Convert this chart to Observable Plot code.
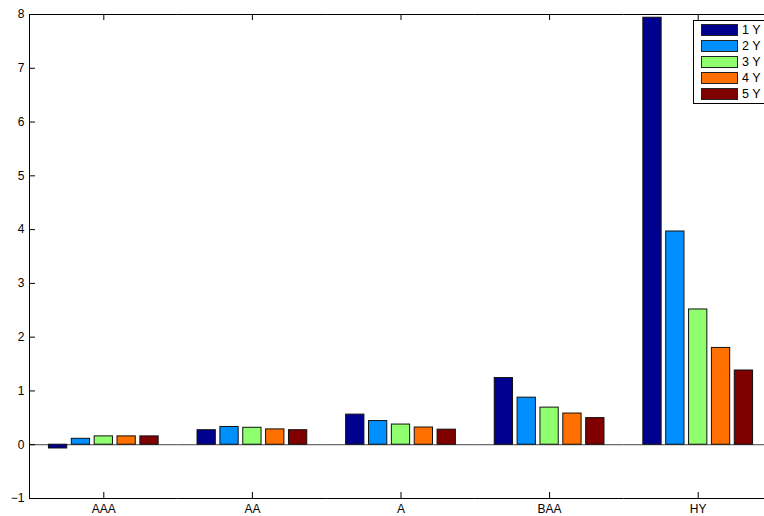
<!DOCTYPE html>
<html>
<head>
<meta charset="utf-8">
<script src="https://cdn.jsdelivr.net/npm/d3@7"></script>
<script src="https://cdn.jsdelivr.net/npm/@observablehq/plot@0.6"></script>
<style>
  html, body { margin: 0; padding: 0; background: #fff; overflow: hidden; }
  #wrap { position: relative; width: 764px; height: 516px; overflow: hidden; font-family: "Liberation Sans", Arial, Helvetica, sans-serif; }
  #wrap svg { max-width: none !important; display: block; }
  #legend { position: absolute; left: 693px; top: 20px; width: 90px; height: 84px; border: 1px solid #000; background: #fff; box-sizing: border-box; }
  .row { position: absolute; left: 7px; height: 12px; display: flex; align-items: center; }
  .sw { width: 35px; height: 10px; border: 1px solid #222; }
  .lab { margin-left: 4px; font-size: 12.5px; color: #000; line-height: 12px; }
</style>
</head>
<body>
<div id="wrap"></div>
<script>
const categories = ["AAA", "AA", "A", "BAA", "HY"];
const seriesNames = ["1 Y", "2 Y", "3 Y", "4 Y", "5 Y"];
const y1 = [-0.07, 0.27, 0.56, 1.24, 7.94];
const y2 = [0.11, 0.33, 0.44, 0.875, 3.965];
const y3 = [0.155, 0.315, 0.375, 0.69, 2.515];
const y4 = [0.155, 0.285, 0.32, 0.58, 1.80];
const y5 = [0.155, 0.27, 0.28, 0.495, 1.38];
const colors = ["#00008F", "#008FFF", "#8FFF70", "#FF7000", "#800000"];
const yTicks = [-1, 0, 1, 2, 3, 4, 5, 6, 7, 8];

const seriesValues = [y1, y2, y3, y4, y5];
const table = categories.flatMap((c, i) =>
  seriesNames.map((s, j) => ({category: c, series: s, value: seriesValues[j][i]}))
);

const W = 772, H = 516, mL = 29, mT = 14, mB = 18;
const facetW = (W - mL) / categories.length;
const facetH = H - mT - mB;
const tickLen = 6;
const padIn = 0.2, padOut = 0.85;
// offset of the first inner band centre from the facet's left edge (for the left axis line)
const n = seriesNames.length;
const step = facetW / (n - padIn + 2 * padOut);
const firstCentre = (facetW - step * (n - padIn)) / 2 + step * (1 - padIn) / 2;

const chart = Plot.plot({
  width: W,
  height: H,
  marginLeft: mL,
  marginRight: 0,
  marginTop: mT,
  marginBottom: mB,
  style: {fontFamily: "'Liberation Sans', Arial, Helvetica, sans-serif", fontSize: "12px", background: "#fff", color: "#000", maxWidth: "none"},
  fx: {domain: categories, paddingInner: 0, paddingOuter: 0, round: false, label: null},
  x: {domain: seriesNames, paddingInner: padIn, paddingOuter: padOut, align: 0.5, round: false, axis: null},
  y: {domain: [-1, 8], label: null},
  color: {domain: seriesNames, range: colors},
  marks: [
    Plot.ruleY([0], {stroke: "#444", strokeWidth: 1}),
    Plot.barY(table, {fx: "category", x: "series", y: "value", fill: "series", stroke: "#111", strokeWidth: 1}),
    Plot.ruleY([-1, 8], {stroke: "#000", strokeWidth: 1}),
    Plot.ruleX([seriesNames[0]], {x: d => d, fx: () => categories[0], dx: -firstCentre, stroke: "#000", strokeWidth: 1}),
    Plot.tickY(yTicks, {y: d => d, fx: () => categories[0], insetRight: facetW - tickLen, stroke: "#000"}),
    Plot.tickX(categories, {fx: d => d, x: () => seriesNames[2], insetBottom: facetH - tickLen, stroke: "#000"}),
    Plot.tickX(categories, {fx: d => d, x: () => seriesNames[2], insetTop: facetH - tickLen, stroke: "#000"}),
    Plot.axisY({ticks: yTicks, tickSize: 0, tickPadding: 5, label: null, fontSize: 12}),
    Plot.axisFx({anchor: "bottom", tickSize: 0, tickPadding: 6, label: null, fontSize: 12})
  ]
});

const wrap = document.getElementById("wrap");
wrap.appendChild(chart);

const legend = document.createElement("div");
legend.id = "legend";
seriesNames.forEach((s, j) => {
  const row = document.createElement("div");
  row.className = "row";
  row.style.top = (3 + j * 16) + "px";
  const sw = document.createElement("div");
  sw.className = "sw";
  sw.style.background = colors[j];
  const lab = document.createElement("span");
  lab.className = "lab";
  lab.textContent = s;
  row.appendChild(sw);
  row.appendChild(lab);
  legend.appendChild(row);
});
wrap.appendChild(legend);
</script>
</body>
</html>
